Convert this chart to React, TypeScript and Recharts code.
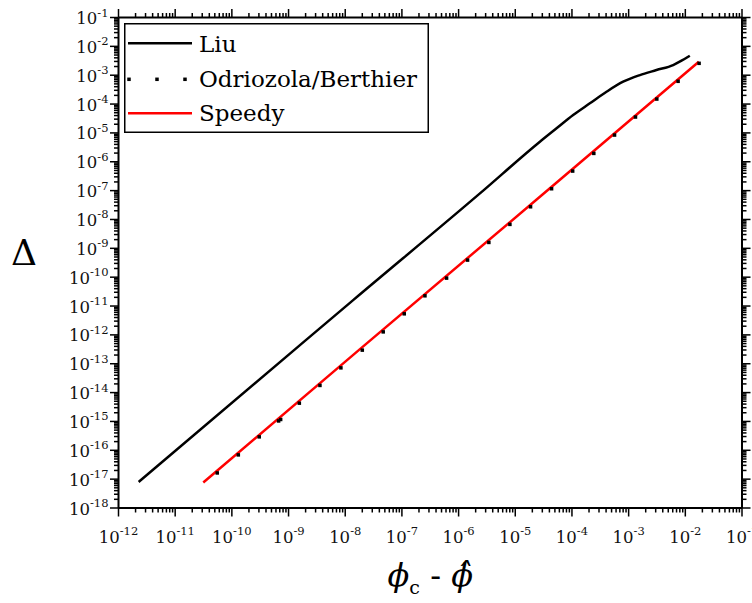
import {
  ComposedChart,
  Label,
  Legend,
  Line,
  Scatter,
  XAxis,
  YAxis,
} from "recharts";

// Liu (black curve)
const LIU_X = [
  2.27e-12, 1.59e-9, 1.38e-8, 2.38e-6, 2.72e-5, 5.35e-5, 1.05e-4, 2.07e-4, 4.07e-4,
  8.0e-4, 1.58e-3, 3.1e-3, 6.1e-3, 8.57e-3, 1.2e-2,
];
const LIU_Y = [
  8.0e-18, 4.41e-13, 1.6e-11, 8.0e-8, 4.94e-6, 1.44e-5, 4.16e-5, 1.06e-4, 2.67e-4,
  5.94e-4, 1.01e-3, 1.51e-3, 2.25e-3, 3.18e-3, 4.73e-3,
];

// Speedy (red line)
const SPEEDY_X = [3.13e-11, 1.82e-8, 2.72e-5, 1.73e-2];
const SPEEDY_Y = [7.64e-18, 3.21e-13, 6.12e-8, 2.93e-3];

// Odriozola/Berthier (dots)
const OB_X = [
  5.52e-11, 1.3e-10, 3.04e-10, 6.68e-10, 7.26e-10, 1.55e-9, 3.58e-9, 8.39e-9, 2.0e-8,
  4.68e-8, 1.1e-7, 2.55e-7, 6.14e-7, 1.44e-6, 3.42e-6, 8.04e-6, 1.86e-5, 4.37e-5,
  1.03e-4, 2.43e-4, 5.64e-4, 1.32e-3, 3.14e-3, 7.46e-3, 1.75e-2,
];
const OB_Y = [
  1.64e-17, 6.93e-17, 2.92e-16, 1.04e-15, 1.17e-15, 4.3e-15, 1.77e-14, 7.19e-14, 2.96e-13,
  1.27e-12, 5.37e-12, 2.26e-11, 9.27e-11, 3.91e-10, 1.6e-9, 6.75e-9, 2.75e-8, 1.16e-7,
  4.76e-7, 1.95e-6, 8.43e-6, 3.55e-5, 1.49e-4, 6.14e-4, 2.58e-3,
];

// decade exponents for axis labels
const X_EXPONENTS = [-12, -11, -10, -9, -8, -7, -6, -5, -4, -3, -2, -1];
const Y_EXPONENTS = [-18, -17, -16, -15, -14, -13, -12, -11, -10, -9, -8, -7, -6, -5, -4, -3, -2, -1];

const FONT = "DejaVu Serif";

const zip = (xs: number[], ys: number[]) => xs.map((x, i) => ({ x, y: ys[i] }));
const liuData = zip(LIU_X, LIU_Y);
const speedyData = zip(SPEEDY_X, SPEEDY_Y);
const obData = zip(OB_X, OB_Y);

// major + minor log ticks
function logTicks(exps: number[]) {
  const out: number[] = [];
  exps.forEach((e, i) => {
    out.push(Number(`1e${e}`));
    if (i < exps.length - 1) {
      for (let k = 2; k <= 9; k++) out.push(Number(`${k}e${e}`));
    }
  });
  return out;
}
const xTicks = logTicks(X_EXPONENTS);
const yTicks = logTicks(Y_EXPONENTS);

const isMajor = (v: number) => {
  const l = Math.log10(v);
  return Math.abs(l - Math.round(l)) < 1e-6;
};

type Side = "bottom" | "top" | "left" | "right";

function AxisTick(props: any) {
  const { x, y, payload, side } = props as { x: number; y: number; payload: { value: number }; side: Side };
  const v = payload.value;
  const major = isMajor(v);
  const len = major ? 8.5 : 4.5;
  const exp = Math.round(Math.log10(v));
  let line;
  if (side === "bottom") line = <line x1={x} y1={y} x2={x} y2={y + len} />;
  else if (side === "top") line = <line x1={x} y1={y} x2={x} y2={y - len} />;
  else if (side === "left") line = <line x1={x} y1={y} x2={x - len} y2={y} />;
  else line = <line x1={x} y1={y} x2={x + len} y2={y} />;

  let label = null;
  if (major && side === "bottom") {
    label = (
      <text x={x} y={y + 34.5} textAnchor="middle" fontFamily={FONT} fontSize={16.5} fill="#111" stroke="none">
        <tspan>10</tspan>
        <tspan dy={-7.5} fontSize={11.5}>{`${exp}`}</tspan>
      </text>
    );
  } else if (major && side === "left") {
    label = (
      <text x={x - 10} y={y + 6.5} textAnchor="end" fontFamily={FONT} fontSize={16.5} fill="#111" stroke="none">
        <tspan>10</tspan>
        <tspan dy={-7.5} fontSize={11.5}>{`${exp}`}</tspan>
      </text>
    );
  }
  return (
    <g stroke="#000" strokeWidth={1.5}>
      {line}
      {label}
    </g>
  );
}

function DotShape(props: any) {
  const { cx, cy } = props;
  if (cx == null || cy == null) return null;
  return <rect x={cx - 1.75} y={cy - 1.75} width={3.5} height={3.5} fill="#000" />;
}

function LegendBox() {
  return (
    <svg width={305} height={110} style={{ display: "block" }}>
      <rect x={0.75} y={0.75} width={303.5} height={108.5} fill="#fff" stroke="#000" strokeWidth={1.5} />
      <line x1={4} y1={20.3} x2={68} y2={20.3} stroke="#000" strokeWidth={2.5} />
      <text x={75} y={28.7} fontFamily={FONT} fontSize={23} fill="#000">Liu</text>
      {[5, 33, 61].map((dx) => (
        <rect key={dx} x={dx - 1.75} y={56.3 - 1.75} width={3.5} height={3.5} fill="#000" />
      ))}
      <text x={75} y={64.3} fontFamily={FONT} fontSize={23} fill="#000">Odriozola/Berthier</text>
      <line x1={4} y1={90.3} x2={68} y2={90.3} stroke="#ff0000" strokeWidth={2.5} />
      <text x={75} y={97.7} fontFamily={FONT} fontSize={23} fill="#000">Speedy</text>
    </svg>
  );
}

function XTitle(props: any) {
  const vb = props.viewBox;
  const cx = vb.x + vb.width / 2;
  return (
    <text x={cx} y={586} textAnchor="middle" fontFamily={FONT} fontSize={32} fill="#000">
      <tspan fontStyle="italic">ϕ</tspan>
      <tspan dy={8} fontSize={19}>c</tspan>
      <tspan dy={-8}> - </tspan>
      <tspan fontStyle="italic">{"ϕ\u0302"}</tspan>
    </text>
  );
}

function YTitle() {
  return (
    <text x={24} y={265} textAnchor="middle" fontFamily={FONT} fontSize={36} fill="#000">
      Δ
    </text>
  );
}

const X_DOMAIN = [1e-12, 1e-1];
const Y_DOMAIN = [1e-18, 1e-1];

export default function App() {
  return (
    <div style={{ width: 752, height: 603, background: "#fff" }}>
      <style>{"body{margin:0;overflow:hidden}"}</style>
      <ComposedChart
        width={752}
        height={603}
        margin={{ top: 16.5, right: 9, bottom: 94, left: 117.5 }}
      >
        <XAxis
          xAxisId="b"
          dataKey="x"
          type="number"
          scale="log"
          domain={X_DOMAIN}
          ticks={xTicks}
          interval={0}
          allowDataOverflow
          height={1}
          tickSize={0}
          tickMargin={0}
          tickLine={false}
          axisLine={{ stroke: "#000", strokeWidth: 2 }}
          tick={(p: any) => <AxisTick {...p} side="bottom" />}
        >
          <Label content={<XTitle />} />
        </XAxis>
        <XAxis
          xAxisId="t"
          orientation="top"
          dataKey="x"
          type="number"
          scale="log"
          domain={X_DOMAIN}
          ticks={xTicks}
          interval={0}
          allowDataOverflow
          height={1}
          tickSize={0}
          tickMargin={0}
          tickLine={false}
          axisLine={{ stroke: "#000", strokeWidth: 2 }}
          tick={(p: any) => <AxisTick {...p} side="top" />}
        />
        <YAxis
          yAxisId="l"
          dataKey="y"
          type="number"
          scale="log"
          domain={Y_DOMAIN}
          ticks={yTicks}
          interval={0}
          allowDataOverflow
          width={1}
          tickSize={0}
          tickMargin={0}
          tickLine={false}
          axisLine={{ stroke: "#000", strokeWidth: 2 }}
          tick={(p: any) => <AxisTick {...p} side="left" />}
        >
          <Label content={<YTitle />} />
        </YAxis>
        <YAxis
          yAxisId="r"
          orientation="right"
          dataKey="y"
          type="number"
          scale="log"
          domain={Y_DOMAIN}
          ticks={yTicks}
          interval={0}
          allowDataOverflow
          width={1}
          tickSize={0}
          tickMargin={0}
          tickLine={false}
          axisLine={{ stroke: "#000", strokeWidth: 2 }}
          tick={(p: any) => <AxisTick {...p} side="right" />}
        />
        <Legend
          layout="horizontal"
          verticalAlign="middle"
          align="center"
          wrapperStyle={{ position: "absolute", left: 124, top: 23, width: 305, height: 110 }}
          content={() => <LegendBox />}
        />
        <Line
          xAxisId="b"
          yAxisId="l"
          data={liuData}
          dataKey="y"
          type="monotone"
          stroke="#000"
          strokeWidth={2.5}
          dot={false}
          activeDot={false}
          isAnimationActive={false}
        />
        <Line
          xAxisId="b"
          yAxisId="l"
          data={speedyData}
          dataKey="y"
          type="linear"
          stroke="#ff0000"
          strokeWidth={2.5}
          dot={false}
          activeDot={false}
          isAnimationActive={false}
        />
        <Scatter
          xAxisId="b"
          yAxisId="l"
          data={obData}
          dataKey="y"
          shape={<DotShape />}
          isAnimationActive={false}
        />
      </ComposedChart>
    </div>
  );
}
